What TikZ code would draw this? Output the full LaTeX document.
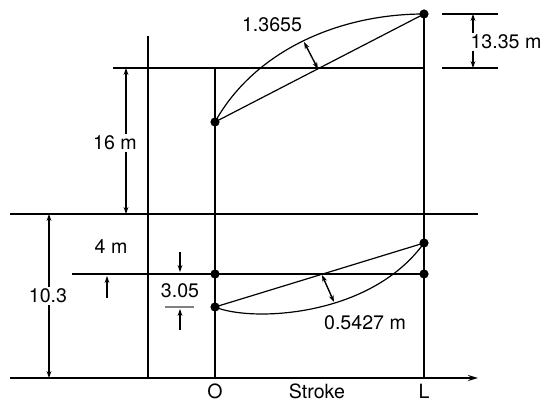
\documentclass[tikz,border=0pt]{standalone}
\usepackage{fontspec}
\setmainfont{TeX Gyre Heros}
\usetikzlibrary{arrows.meta}

\begin{document}
\begin{tikzpicture}[x=0.5pt,y=-0.5pt,
  font=\fontsize{9.8}{11}\selectfont,
  ln/.style={line width=0.9pt},
  crv/.style={line width=0.6pt},
  dim/.style={line width=0.7pt,{Stealth[length=3.5pt,width=2.4pt]}-{Stealth[length=3.5pt,width=2.4pt]}},
  tip/.style={line width=0.7pt,-{Stealth[length=3.5pt,width=2.4pt]}},
  lbl/.style={fill=white,inner sep=1pt},
  axlbl/.style={anchor=base,inner sep=0pt}]
\useasboundingbox (0,0) rectangle (541,401);
% frame lines
\coordinate (axl) at (10,378);  \coordinate (axr) at (478,378);
\coordinate (vat) at (148,36);  \coordinate (vab) at (148,378);
\coordinate (ot) at (215,68);   \coordinate (ob) at (215,378);
\coordinate (lt) at (424,14);   \coordinate (lb) at (424,378);
\coordinate (ha) at (113,68);   \coordinate (hb) at (424,68);
\coordinate (hc) at (10,214);   \coordinate (hd) at (478,214);
\coordinate (he) at (72,274);   \coordinate (hf) at (424,274);
\draw[ln,-{Stealth[length=5pt,width=3pt]}] (axl) -- (axr);
\draw[ln] (vat) -- (vab);
\draw[ln] (ot) -- (ob);
\draw[ln] (lt) -- (lb);
\draw[ln] (ha) -- (hb);
\draw[ln] (hc) -- (hd);
\draw[ln] (he) -- (hf);
% upper curve and chord
\coordinate (up0) at (215,122);
\draw[crv] (up0) .. controls (255,50) and (340,14) .. (lt);
\draw[crv] (up0) -- (lt);
\coordinate (uc) at (304,42); \coordinate (uk) at (318,69);
\draw[dim] (uc) -- (uk);
% lower curve and chord
\coordinate (lo0) at (215,307); \coordinate (lo1) at (424,243);
\coordinate (lo2) at (215,274); \coordinate (lo3) at (424,274);
\draw[crv] (lo0) .. controls (250,322) and (370,318) .. (lo1);
\draw[crv] (lo0) -- (lo1);
\coordinate (lk) at (322,275); \coordinate (lc) at (334,302);
\draw[dim] (lk) -- (lc);
% dots
\foreach \p in {up0,lt,lo0,lo1,lo2,lo3}
  \fill (\p) circle (2.3pt);
% dimensions
\coordinate (ra) at (442,14); \coordinate (rb) at (498,14);
\coordinate (rc) at (442,68); \coordinate (rd) at (498,68);
\draw[ln] (ra) -- (rb);
\draw[ln] (rc) -- (rd);
\coordinate (r1) at (473,14); \coordinate (r2) at (473,68);
\draw[dim] (r1) -- (r2);
\node[lbl] (d1335) at (506,42) {13.35 m};
\coordinate (s1) at (126,68); \coordinate (s2) at (126,214);
\draw[dim] (s1) -- (s2);
\node[lbl] (d16) at (115,143) {16 m};
\coordinate (t1) at (49,214); \coordinate (t2) at (49,378);
\draw[dim] (t1) -- (t2);
\node[lbl] (d103) at (48,296) {10.3};
\node (d4) at (111,247) {4 m};
\coordinate (f1) at (107,298); \coordinate (f2) at (107,276);
\draw[tip] (f1) -- (f2);
\coordinate (g1) at (180,252); \coordinate (g2) at (180,272);
\coordinate (g3) at (180,330); \coordinate (g4) at (180,309);
\draw[tip] (g1) -- (g2);
\draw[tip] (g3) -- (g4);
\coordinate (gb1) at (165,307); \coordinate (gb2) at (194,307);
\draw[gray,line width=1.2pt] (gb1) -- (gb2);
\node (d305) at (180,291) {3.05};
\node (d1365) at (272,25) {1.3655};
\node (d5427) at (365,323) {0.5427 m};
% axis labels
\node[axlbl] (lo) at (215,398) {O};
\node[axlbl] (lstroke) at (317,398) {Stroke};
\node[axlbl] (ll) at (424,398) {L};
\end{tikzpicture}
\end{document}
